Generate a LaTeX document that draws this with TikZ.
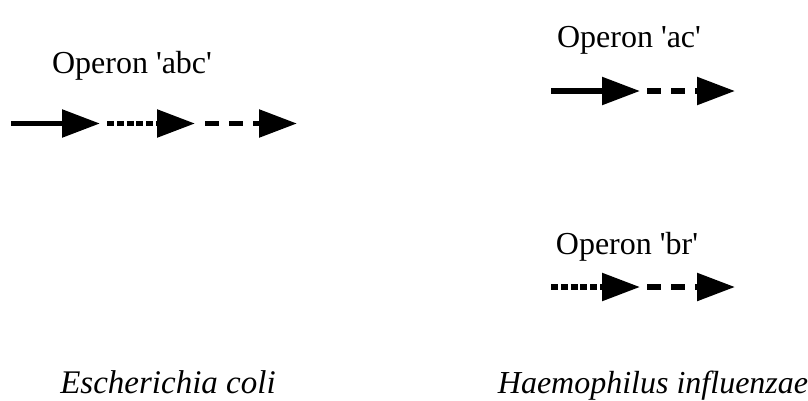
\documentclass[tikz,border=0pt]{standalone}
\usepackage{fontspec}
\setmainfont{Liberation Serif}
\usetikzlibrary{arrows.meta}

\begin{document}
\begin{tikzpicture}[x=1pt,y=-1pt,>={Triangle[length=38pt,width=27pt]},
  every node/.style={font=\fontsize{32}{38}\selectfont,inner sep=0pt},
  gene/.style={->,line width=5.5pt},
  genedot/.style={gene,dash pattern=on 7pt off 2.8pt},
  genedash/.style={gene,dash pattern=on 14pt off 10pt}]
  \useasboundingbox (0,0) rectangle (808,400);
  % Escherichia coli
  \node[anchor=base] (abc) at (132,73) {Operon \textquotesingle abc\textquotesingle};
  \coordinate (a0) at (11,123.5);
  \coordinate (a1) at (100,123.5);
  \coordinate (b0) at (107,123.5);
  \coordinate (b1) at (195,123.5);
  \coordinate (c0) at (205,123.5);
  \coordinate (c1) at (297,123.5);
  \draw[gene] (a0) -- (a1);
  \draw[genedot] (b0) -- (b1);
  \draw[genedash] (c0) -- (c1);
  \node[anchor=base,font=\fontsize{33}{39}\selectfont\itshape] (ecoli) at (168,393) {Escherichia coli};
  % Haemophilus influenzae
  \node[anchor=base] (ac) at (629,47) {Operon \textquotesingle ac\textquotesingle};
  \coordinate (ha0) at (551,91);
  \coordinate (ha1) at (640,91);
  \coordinate (hc0) at (647,91);
  \coordinate (hc1) at (735,91);
  \draw[gene] (ha0) -- (ha1);
  \draw[genedash] (hc0) -- (hc1);
  \node[anchor=base] (br) at (627,254) {Operon \textquotesingle br\textquotesingle};
  \coordinate (hb0) at (551,287);
  \coordinate (hb1) at (640,287);
  \coordinate (hr0) at (647,287);
  \coordinate (hr1) at (735,287);
  \draw[genedot] (hb0) -- (hb1);
  \draw[genedash] (hr0) -- (hr1);
  \node[anchor=base,font=\fontsize{32}{38}\selectfont\itshape] (hinf) at (653,393) {Haemophilus influenzae};
\end{tikzpicture}
\end{document}
